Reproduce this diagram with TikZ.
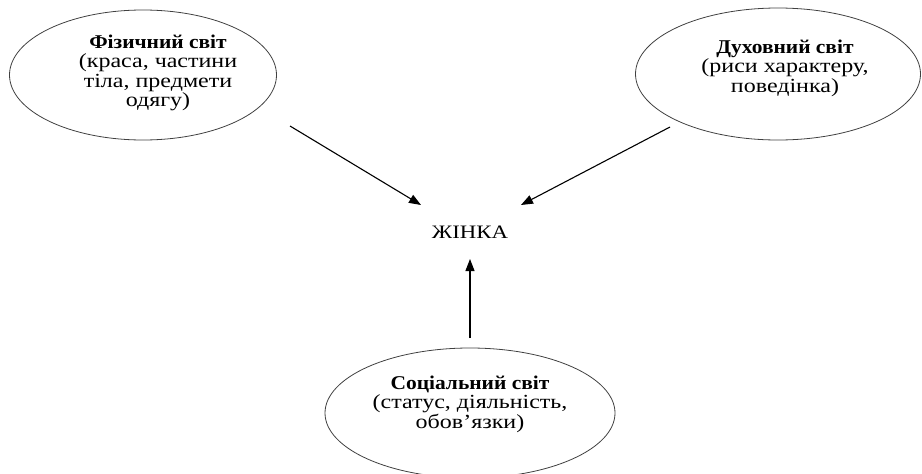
\documentclass[tikz,border=0pt]{standalone}
\usepackage{fontspec}
\setmainfont{Liberation Serif}[FakeStretch=1.2]
\newfontfamily\headfont{Liberation Serif Bold}[FakeStretch=1.1]
\newcommand{\headline}[1]{{\fontsize{19.5}{19.5}\headfont #1}}
\usetikzlibrary{shapes.geometric,arrows.meta}
\begin{document}
\begin{tikzpicture}[x=1pt,y=-1pt,
  world/.style={draw=black!75,line width=0.8pt,ellipse,inner sep=0pt},
  caption/.style={align=center,inner sep=0pt,font=\fontsize{20}{19.5}\selectfont},
  link/.style={draw=black,line width=1.1pt,-{Triangle[length=12pt,width=9pt]}}]
\useasboundingbox (0,0) rectangle (922,474);
% the three spheres
\node[world,minimum width=267pt,minimum height=130pt] (phys) at (143,75) {};
\node[world,minimum width=285pt,minimum height=132pt] (spir) at (778,74) {};
\node[world,minimum width=290pt,minimum height=130pt] (soc) at (470,413) {};
% their captions
\node[caption] (physT) at (158,73) {\headline{Фізичний світ}\\(краса, частини\\тіла, предмети\\одягу)};
\node[caption] (spirT) at (785,68) {\headline{Духовний світ}\\(риси характеру,\\поведінка)};
\node[caption] (socT) at (470,404) {\headline{Соціальний світ}\\(статус, діяльність,\\обов’язки)};
% centre
\node[caption,font=\fontsize{19}{19.5}\selectfont] (woman) at (470,232) {ЖІНКА};
% arrow ends
\coordinate (p1) at (290,126);
\coordinate (p2) at (670,127);
\coordinate (p3) at (470,338);
\coordinate (t1) at (421,205);
\coordinate (t2) at (521,205);
\coordinate (t3) at (470,259);
\draw[link] (p1) -- (t1);
\draw[link] (p2) -- (t2);
\draw[link] (p3) -- (t3);
\end{tikzpicture}
\end{document}
